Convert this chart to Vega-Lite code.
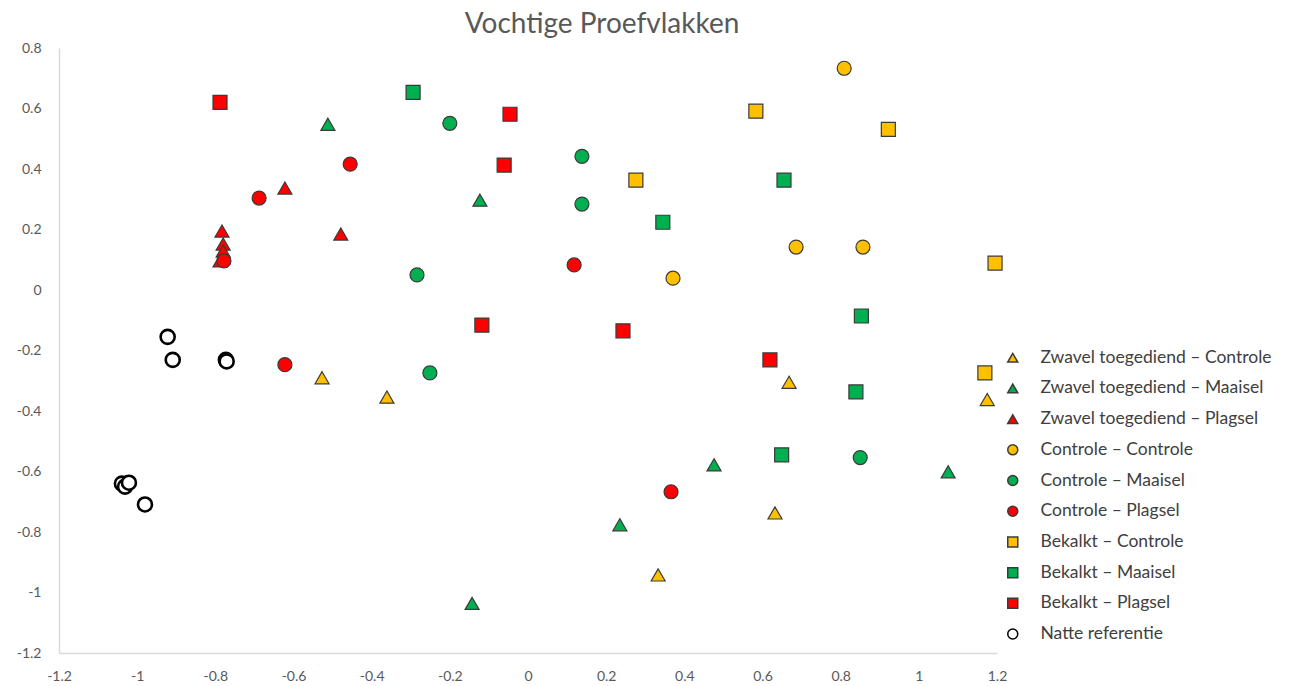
{
  "$schema": "https://vega.github.io/schema/vega-lite/v6.json",
  "autosize": "none",
  "width": 938,
  "height": 605,
  "padding": {"left": 59, "top": 48, "right": 294, "bottom": 33},
  "background": "white",
  "title": {
    "text": "Vochtige Proefvlakken",
    "font": "Lato",
    "fontSize": 28,
    "fontWeight": "normal",
    "color": "#595959",
    "anchor": "middle",
    "frame": "group",
    "dx": 74,
    "offset": 2
  },
  "config": {
    "view": {"stroke": null},
    "font": "Lato"
  },
  "data": {
    "values": [
      {"series": "Zwavel toegediend – Controle", "x": -0.527, "y": -0.29},
      {"series": "Zwavel toegediend – Controle", "x": -0.361, "y": -0.354},
      {"series": "Zwavel toegediend – Controle", "x": 0.668, "y": -0.305},
      {"series": "Zwavel toegediend – Controle", "x": 1.175, "y": -0.362},
      {"series": "Zwavel toegediend – Controle", "x": 0.632, "y": -0.737},
      {"series": "Zwavel toegediend – Controle", "x": 0.333, "y": -0.942},
      {"series": "Zwavel toegediend – Maaisel", "x": -0.512, "y": 0.548},
      {"series": "Zwavel toegediend – Maaisel", "x": -0.123, "y": 0.297},
      {"series": "Zwavel toegediend – Maaisel", "x": -0.143, "y": -1.036},
      {"series": "Zwavel toegediend – Maaisel", "x": 0.235, "y": -0.776},
      {"series": "Zwavel toegediend – Maaisel", "x": 0.476, "y": -0.578},
      {"series": "Zwavel toegediend – Maaisel", "x": 1.075, "y": -0.601},
      {"series": "Zwavel toegediend – Plagsel", "x": -0.622, "y": 0.337},
      {"series": "Zwavel toegediend – Plagsel", "x": -0.479, "y": 0.185},
      {"series": "Zwavel toegediend – Plagsel", "x": -0.783, "y": 0.195},
      {"series": "Zwavel toegediend – Plagsel", "x": -0.78, "y": 0.152},
      {"series": "Zwavel toegediend – Plagsel", "x": -0.78, "y": 0.129},
      {"series": "Zwavel toegediend – Plagsel", "x": -0.788, "y": 0.096},
      {"series": "Controle – Controle", "x": 0.809, "y": 0.733},
      {"series": "Controle – Controle", "x": 0.686, "y": 0.142},
      {"series": "Controle – Controle", "x": 0.857, "y": 0.142},
      {"series": "Controle – Controle", "x": 0.371, "y": 0.039},
      {"series": "Controle – Maaisel", "x": -0.2, "y": 0.551},
      {"series": "Controle – Maaisel", "x": 0.138, "y": 0.442},
      {"series": "Controle – Maaisel", "x": 0.138, "y": 0.284},
      {"series": "Controle – Maaisel", "x": -0.284, "y": 0.05},
      {"series": "Controle – Maaisel", "x": -0.251, "y": -0.274},
      {"series": "Controle – Maaisel", "x": 0.85, "y": -0.554},
      {"series": "Controle – Plagsel", "x": -0.455, "y": 0.416},
      {"series": "Controle – Plagsel", "x": -0.688, "y": 0.304},
      {"series": "Controle – Plagsel", "x": -0.778, "y": 0.096},
      {"series": "Controle – Plagsel", "x": -0.622, "y": -0.247},
      {"series": "Controle – Plagsel", "x": 0.118, "y": 0.083},
      {"series": "Controle – Plagsel", "x": 0.366, "y": -0.667},
      {"series": "Bekalkt – Controle", "x": 0.583, "y": 0.591},
      {"series": "Bekalkt – Controle", "x": 0.922, "y": 0.531},
      {"series": "Bekalkt – Controle", "x": 0.276, "y": 0.363},
      {"series": "Bekalkt – Controle", "x": 1.195, "y": 0.089},
      {"series": "Bekalkt – Controle", "x": 1.169, "y": -0.274},
      {"series": "Bekalkt – Maaisel", "x": -0.294, "y": 0.653},
      {"series": "Bekalkt – Maaisel", "x": 0.345, "y": 0.224},
      {"series": "Bekalkt – Maaisel", "x": 0.655, "y": 0.363},
      {"series": "Bekalkt – Maaisel", "x": 0.853, "y": -0.086},
      {"series": "Bekalkt – Maaisel", "x": 0.839, "y": -0.337},
      {"series": "Bekalkt – Maaisel", "x": 0.649, "y": -0.545},
      {"series": "Bekalkt – Plagsel", "x": -0.788, "y": 0.62},
      {"series": "Bekalkt – Plagsel", "x": -0.046, "y": 0.581},
      {"series": "Bekalkt – Plagsel", "x": -0.061, "y": 0.413},
      {"series": "Bekalkt – Plagsel", "x": -0.118, "y": -0.116},
      {"series": "Bekalkt – Plagsel", "x": 0.243, "y": -0.135},
      {"series": "Bekalkt – Plagsel", "x": 0.619, "y": -0.231},
      {"series": "Natte referentie", "x": -0.922, "y": -0.155},
      {"series": "Natte referentie", "x": -0.909, "y": -0.231},
      {"series": "Natte referentie", "x": -0.773, "y": -0.231},
      {"series": "Natte referentie", "x": -0.771, "y": -0.236},
      {"series": "Natte referentie", "x": -1.039, "y": -0.64},
      {"series": "Natte referentie", "x": -1.031, "y": -0.65},
      {"series": "Natte referentie", "x": -1.021, "y": -0.637},
      {"series": "Natte referentie", "x": -0.98, "y": -0.709}
    ]
  },
  "mark": {"type": "point", "filled": true, "size": 196, "opacity": 1},
  "encoding": {
    "x": {
      "field": "x",
      "type": "quantitative",
      "scale": {"domain": [-1.2, 1.2], "nice": false, "zero": false},
      "axis": {
        "title": null,
        "values": [-1.2, -1, -0.8, -0.6, -0.4, -0.2, 0, 0.2, 0.4, 0.6, 0.8, 1, 1.2],
        "labelExpr": "toString(datum.value)",
        "grid": false,
        "ticks": false,
        "domainColor": "#D9D9D9",
        "domainWidth": 1.5,
        "labelColor": "#595959",
        "labelFont": "Lato",
        "labelFontSize": 14,
        "labelPadding": 16,
        "labelFlush": false,
        "labelOverlap": false
      }
    },
    "y": {
      "field": "y",
      "type": "quantitative",
      "scale": {"domain": [-1.2, 0.8], "nice": false, "zero": false},
      "axis": {
        "title": null,
        "values": [-1.2, -1, -0.8, -0.6, -0.4, -0.2, 0, 0.2, 0.4, 0.6, 0.8],
        "labelExpr": "toString(datum.value)",
        "grid": false,
        "ticks": false,
        "domainColor": "#D9D9D9",
        "domainWidth": 1.5,
        "labelColor": "#595959",
        "labelFont": "Lato",
        "labelFontSize": 14,
        "labelPadding": 18,
        "labelFlush": false,
        "labelOverlap": false
      }
    },
    "shape": {
      "field": "series",
      "type": "nominal",
      "scale": {
        "domain": ["Zwavel toegediend – Controle", "Zwavel toegediend – Maaisel", "Zwavel toegediend – Plagsel", "Controle – Controle", "Controle – Maaisel", "Controle – Plagsel", "Bekalkt – Controle", "Bekalkt – Maaisel", "Bekalkt – Plagsel", "Natte referentie"],
        "range": ["triangle-up", "triangle-up", "triangle-up", "circle", "circle", "circle", "square", "square", "square", "circle"]
      },
      "legend": {
        "title": null,
        "orient": "none",
        "legendX": 945,
        "legendY": 301,
        "padding": 0,
        "symbolSize": 100,
        "labelFont": "Lato",
        "labelFontSize": 17.5,
        "labelColor": "#404040",
        "labelOffset": 19,
        "rowPadding": 11.7,
        "labelLimit": 300,
        "encode": {
          "symbols": {
            "update": {
              "strokeWidth": {"signal": "datum.value === 'Natte referentie' ? 2.5 : 1"}
            }
          }
        }
      }
    },
    "fill": {
      "field": "series",
      "type": "nominal",
      "scale": {
        "domain": ["Zwavel toegediend – Controle", "Zwavel toegediend – Maaisel", "Zwavel toegediend – Plagsel", "Controle – Controle", "Controle – Maaisel", "Controle – Plagsel", "Bekalkt – Controle", "Bekalkt – Maaisel", "Bekalkt – Plagsel", "Natte referentie"],
        "range": ["#FFC000", "#00B050", "#FF0000", "#FFC000", "#00B050", "#FF0000", "#FFC000", "#00B050", "#FF0000", "#FFFFFF"]
      }
    },
    "stroke": {
      "field": "series",
      "type": "nominal",
      "scale": {
        "domain": ["Zwavel toegediend – Controle", "Zwavel toegediend – Maaisel", "Zwavel toegediend – Plagsel", "Controle – Controle", "Controle – Maaisel", "Controle – Plagsel", "Bekalkt – Controle", "Bekalkt – Maaisel", "Bekalkt – Plagsel", "Natte referentie"],
        "range": ["#3A3A3A", "#3A3A3A", "#3A3A3A", "#3A3A3A", "#3A3A3A", "#3A3A3A", "#3A3A3A", "#3A3A3A", "#3A3A3A", "#000000"]
      }
    },
    "strokeWidth": {
      "condition": {"test": "datum.series === 'Natte referentie'", "value": 2.6},
      "value": 1.2
    }
  }
}
